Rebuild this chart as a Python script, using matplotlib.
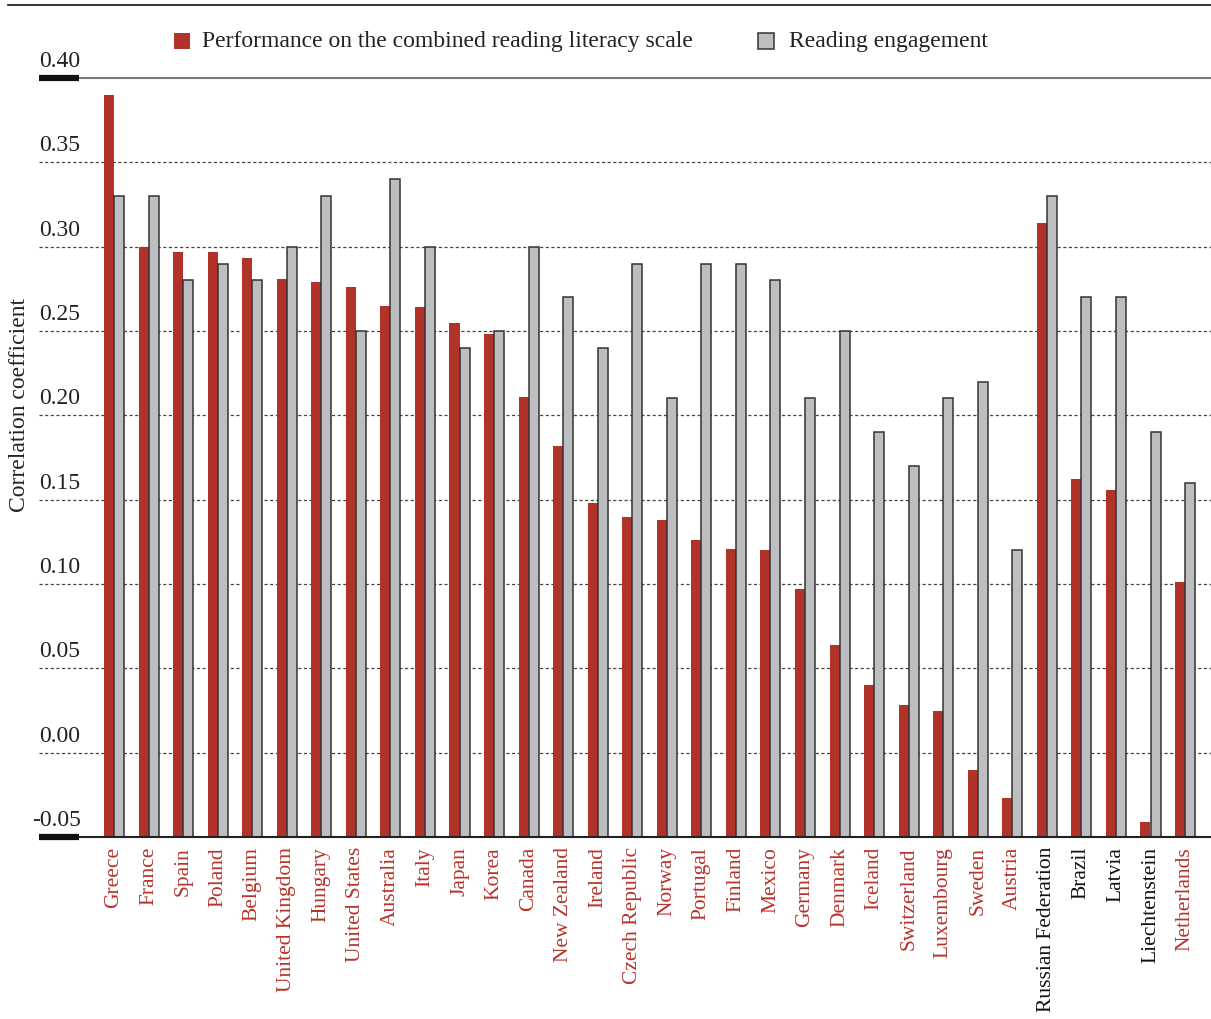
import matplotlib
matplotlib.use("Agg")
import matplotlib.pyplot as plt
from matplotlib.lines import Line2D
from matplotlib.patches import Rectangle
import numpy as np

countries = ["Greece", "France", "Spain", "Poland", "Belgium", "United Kingdom", "Hungary",
             "United States", "Australia", "Italy", "Japan", "Korea", "Canada", "New Zealand",
             "Ireland", "Czech Republic", "Norway", "Portugal", "Finland", "Mexico", "Germany",
             "Denmark", "Iceland", "Switzerland", "Luxembourg", "Sweden", "Austria",
             "Russian Federation", "Brazil", "Latvia", "Liechtenstein", "Netherlands"]
performance = [0.390, 0.300, 0.297, 0.297, 0.293, 0.281, 0.279, 0.276, 0.265, 0.264, 0.255,
               0.248, 0.211, 0.182, 0.148, 0.140, 0.138, 0.126, 0.121, 0.120, 0.097, 0.064,
               0.040, 0.028, 0.025, -0.010, -0.027, 0.314, 0.162, 0.156, -0.041, 0.101]
engagement = [0.33, 0.33, 0.28, 0.29, 0.28, 0.30, 0.33, 0.25, 0.34, 0.30, 0.24, 0.25, 0.30,
              0.27, 0.24, 0.29, 0.21, 0.29, 0.29, 0.28, 0.21, 0.25, 0.19, 0.17, 0.21, 0.22,
              0.12, 0.33, 0.27, 0.27, 0.19, 0.16]
oecd = [True] * 27 + [False, False, False, False, True]
yticks = [-0.05, 0.00, 0.05, 0.10, 0.15, 0.20, 0.25, 0.30, 0.35, 0.40]
series_names = ["Performance on the combined reading literacy scale", "Reading engagement"]

RED = "#b03229"
GRAY = "#bdbec2"
EDGE = "#333333"
LBLRED = "#b8332b"
FONT = "Liberation Serif"
FS = 17
FS_X = 15.5

plt.rcParams["font.family"] = [FONT, "DejaVu Serif"]

fig = plt.figure(figsize=(12.11, 10.19), dpi=100)
W, H = 1211, 1019
ax_left = 39 / W
ax_right = 1.0
ax_bottom = 1 - 837 / H
ax_top = 1 - 78 / H
ax = fig.add_axes([ax_left, ax_bottom, ax_right - ax_left, ax_top - ax_bottom])

base = -0.05
x = np.arange(len(countries))
bw = 0.29
ax.bar(x - bw / 2, np.array(performance) - base, bottom=base, width=bw, color=RED,
       edgecolor="none", zorder=3)
ax.bar(x + bw / 2, np.array(engagement) - base, bottom=base, width=bw, color=GRAY,
       edgecolor=EDGE, linewidth=1.1, zorder=3)

spacing = 34.55
xl = -(114 - 39) / spacing
xr = xl + (W - 39) / spacing
ax.set_xlim(xl, xr)
ax.set_ylim(-0.05, 0.40)

for s in ax.spines.values():
    s.set_visible(False)
ax.set_yticks([])
ax.set_xticks([])

# gridlines
for t in yticks[1:-1]:
    ax.axhline(t, color="#444444", linestyle=(0, (2.5, 2.0)), linewidth=0.9, zorder=1)
trans = ax.get_yaxis_transform()
frac = (79 - 39) / (W - 39)
ax.plot([frac, 1], [0.40, 0.40], transform=trans, color="#777777", lw=1.5, zorder=4, clip_on=False)
ax.plot([frac, 1], [-0.05, -0.05], transform=trans, color="#222222", lw=1.5, zorder=4, clip_on=False)
ax.plot([0, frac], [0.40, 0.40], transform=trans, color="#111111", lw=4.5, zorder=4,
        clip_on=False, solid_capstyle="butt")
ax.plot([0, frac], [-0.05, -0.05], transform=trans, color="#111111", lw=4.5, zorder=4,
        clip_on=False, solid_capstyle="butt")

for t in yticks:
    lbl = f"{t:.2f}"
    xo = -0.006 if t < 0 else 0.0
    ax.text(xo, t + 0.0035, lbl, transform=trans, ha="left", va="bottom",
            fontsize=FS, color="#222222")

for i, c in enumerate(countries):
    ax.text(i, -0.056, c, rotation=90, ha="center", va="top", fontsize=FS_X,
            color=LBLRED if oecd[i] else "#111111")

fig.text(20 / W, 1 - 405 / H, "Correlation coefficient", rotation=90, ha="center",
         va="center", fontsize=FS, color="#222222")

# top rule
fig.add_artist(Line2D([8 / W, 1.0], [1 - 5 / H, 1 - 5 / H], color="#111111", lw=1.2))

# legend (manual placement)
ly = 1 - 41 / H
sq = 16
fig.add_artist(Rectangle((174 / W, ly - sq / 2 / H), sq / W, sq / H, transform=fig.transFigure,
                         facecolor=RED, edgecolor="none"))
fig.text(202 / W, ly, series_names[0], ha="left", va="center", fontsize=FS, color="#222222")
fig.add_artist(Rectangle((758 / W, ly - sq / 2 / H), sq / W, sq / H, transform=fig.transFigure,
                         facecolor=GRAY, edgecolor=EDGE, lw=1.1))
fig.text(789 / W, ly, series_names[1], ha="left", va="center", fontsize=FS, color="#222222")

fig.savefig("out.png", dpi=100)
